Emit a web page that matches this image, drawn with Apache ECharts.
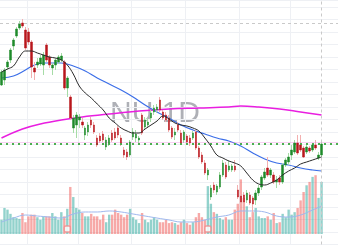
<!DOCTYPE html>
<html>
<head>
<meta charset="utf-8">
<script src="https://cdn.jsdelivr.net/npm/echarts@6/dist/echarts.min.js"></script>
<style>
  html, body { margin: 0; padding: 0; background: #fff; }
  #chart { width: 338px; height: 250px; }
</style>
</head>
<body>
<div id="chart"></div>
<script>
  // daily candles
  const opens = [13.38, 13.58, 14.10, 14.38, 14.94, 15.34, 15.66, 15.86, 15.58, 15.50,
    15.10, 14.06, 14.18, 14.22, 14.18, 14.98, 14.50, 14.06, 14.18, 14.30,
    14.38, 14.30, 13.26, 12.90, 11.66, 11.78, 11.98, 11.90, 11.38, 11.50,
    11.98, 11.78, 11.26, 11.34, 11.42, 10.90, 11.06, 11.46, 11.50, 11.66,
    11.26, 10.78, 10.70, 10.58, 11.30, 11.26, 11.18, 12.18, 11.70, 11.78,
    12.06, 12.30, 12.38, 12.78, 12.30, 12.18, 12.06, 11.66, 11.38, 11.78,
    11.46, 11.18, 11.34, 11.26, 11.26, 11.50, 10.86, 10.58, 10.26, 9.78,
    8.90, 9.38, 9.10, 9.30, 9.78, 10.18, 9.98, 9.98, 10.14, 9.18,
    8.94, 8.98, 8.78, 8.98, 8.86, 8.78, 9.06, 9.30, 9.66, 10.06,
    9.78, 9.78, 9.50, 9.66, 9.50, 10.18, 10.30, 10.58, 10.70, 11.06,
    10.98, 10.86, 10.70, 10.86, 10.78, 10.98, 10.46, 10.58]
  const closes = [13.90, 13.98, 14.30, 14.78, 15.18, 15.62, 15.82, 15.74, 14.86, 15.10,
    14.10, 13.90, 14.30, 14.46, 14.58, 14.38, 14.18, 14.18, 14.38, 14.50,
    14.54, 13.26, 13.66, 12.06, 12.06, 12.18, 12.10, 11.78, 11.66, 11.78,
    11.78, 11.50, 10.98, 11.14, 11.18, 11.18, 11.26, 11.18, 11.26, 11.38,
    11.06, 10.58, 10.50, 11.10, 11.50, 11.42, 11.26, 11.46, 11.98, 11.90,
    12.26, 12.46, 12.50, 12.38, 12.06, 11.98, 11.58, 11.30, 11.50, 11.58,
    11.06, 11.50, 11.10, 11.06, 11.46, 10.86, 10.50, 10.30, 9.86, 9.98,
    9.26, 9.18, 9.34, 9.78, 10.26, 9.70, 10.14, 10.14, 9.98, 8.90,
    8.70, 8.70, 9.06, 8.66, 8.62, 9.06, 9.26, 9.70, 9.90, 9.78,
    9.98, 9.50, 9.58, 9.50, 10.18, 10.38, 10.50, 10.78, 11.06, 10.66,
    10.78, 10.50, 10.90, 10.74, 10.98, 10.86, 10.58, 11.02]
  const lows = [13.34, 13.38, 13.98, 14.26, 14.78, 15.26, 15.58, 15.66, 14.78, 14.98,
    13.66, 13.58, 14.06, 14.14, 13.78, 14.30, 14.06, 13.78, 13.98, 14.22,
    14.30, 13.18, 12.90, 11.98, 11.46, 11.26, 11.66, 11.66, 11.18, 11.34,
    11.66, 11.42, 10.90, 11.06, 11.10, 10.78, 10.94, 11.10, 11.18, 11.26,
    10.94, 10.46, 10.38, 10.50, 11.18, 11.10, 11.06, 11.38, 11.58, 11.66,
    11.90, 12.18, 12.26, 12.30, 11.98, 11.90, 11.50, 11.22, 11.18, 11.50,
    10.98, 11.06, 11.02, 10.94, 11.18, 10.78, 10.42, 10.22, 9.78, 9.58,
    8.78, 9.06, 8.98, 9.22, 9.70, 9.62, 9.90, 9.90, 9.90, 8.82,
    8.62, 8.58, 8.66, 8.58, 8.18, 8.58, 8.94, 9.18, 9.58, 9.70,
    9.66, 9.42, 9.26, 9.38, 9.42, 10.10, 10.18, 10.38, 10.62, 10.58,
    10.70, 10.46, 10.62, 10.66, 10.70, 10.78, 10.38, 10.50]
  const highs = [13.98, 14.06, 14.38, 14.86, 15.26, 15.70, 15.94, 16.02, 15.70, 15.66,
    15.18, 14.30, 14.46, 14.58, 14.70, 15.06, 14.58, 14.26, 14.46, 14.58,
    14.66, 14.38, 13.74, 12.98, 12.18, 12.30, 12.22, 12.06, 11.74, 11.90,
    12.10, 11.90, 11.38, 11.46, 11.54, 11.30, 11.38, 11.58, 11.66, 11.74,
    11.38, 10.90, 10.82, 11.18, 11.66, 11.58, 11.34, 12.26, 12.10, 12.06,
    12.38, 12.58, 12.62, 12.90, 12.38, 12.30, 12.18, 11.74, 11.66, 11.90,
    11.58, 11.58, 11.42, 11.38, 11.54, 11.58, 10.94, 10.70, 10.38, 10.06,
    9.38, 9.50, 9.42, 9.90, 10.38, 10.30, 10.38, 10.22, 10.38, 9.38,
    9.02, 9.10, 9.18, 9.10, 8.94, 9.18, 9.38, 9.78, 10.06, 10.50,
    10.06, 9.90, 9.74, 9.78, 10.26, 10.46, 10.66, 10.98, 11.18, 11.38,
    11.38, 10.94, 10.98, 10.94, 11.06, 11.18, 10.70, 11.10]
  // volume in millions
  const volumes = [17, 31, 29, 24, 20, 19, 18, 25, 14, 21,
    23, 23, 20, 17, 21, 21, 21, 25, 21, 17,
    26, 21, 30, 56, 44, 31, 29, 25, 21, 21,
    24, 21, 21, 17, 23, 14, 23, 23, 29, 25,
    23, 20, 23, 30, 20, 17, 13, 25, 17, 14,
    17, 20, 17, 14, 14, 17, 13, 14, 13, 11,
    14, 17, 13, 11, 14, 20, 25, 20, 17, 57,
    36, 26, 24, 19, 17, 20, 17, 17, 29, 36,
    65, 43, 33, 20, 26, 31, 21, 19, 19, 21,
    17, 25, 13, 14, 24, 20, 29, 23, 26, 31,
    40, 50, 58, 62, 68, 70, 43, 62]

  // moving averages, read as [bar index, value]
  const maShort = [[0, 13.90], [2, 14.02], [4, 14.14], [6, 14.50], [8, 14.74], [10, 14.74],
    [12, 14.66], [14, 14.58], [16, 14.50], [18, 14.46], [20, 14.38], [22, 14.18],
    [24, 13.82], [26, 13.34], [28, 13.06], [30, 12.86], [32, 12.62], [34, 12.38],
    [36, 12.06], [38, 11.86], [40, 11.66], [42, 11.54], [44, 11.46], [46, 11.46],
    [48, 11.62], [50, 11.78], [52, 11.94], [54, 12.14], [56, 12.02], [58, 11.86],
    [60, 11.78], [62, 11.74], [64, 11.66], [66, 11.54], [68, 11.26], [70, 10.94],
    [72, 10.58], [74, 10.46], [76, 10.34], [78, 10.26], [80, 10.14], [82, 9.86],
    [84, 9.58], [86, 9.42], [88, 9.38], [90, 9.46], [92, 9.58], [94, 9.78],
    [96, 9.94], [98, 10.06], [100, 10.22], [102, 10.30], [104, 10.38], [106, 10.46], [107, 10.50]]
  const maMid = [[0, 13.66], [4, 13.74], [8, 13.98], [11, 14.18], [14, 14.26], [20, 14.26],
    [24, 14.14], [28, 13.94], [32, 13.66], [36, 13.42], [40, 13.18], [44, 12.90],
    [48, 12.58], [52, 12.30], [56, 12.06], [60, 11.78], [64, 11.58], [68, 11.42],
    [72, 11.26], [76, 11.14], [80, 10.94], [84, 10.66], [88, 10.42], [92, 10.26],
    [96, 10.18], [100, 10.06], [104, 9.98], [107, 9.94]]
  const maLong = [[0, 11.26], [7, 11.62], [13, 11.82], [20, 11.98], [27, 12.10], [36, 12.22],
    [46, 12.34], [56, 12.42], [66, 12.46], [76, 12.50], [80, 12.54], [86, 12.50],
    [93, 12.42], [100, 12.30], [107, 12.18]]
  const volMa = [[0, 14.3], [4, 19], [8, 22.6], [12, 21.4], [16, 20.2], [20, 19], [24, 23.8],
    [28, 26.2], [32, 26.2], [36, 27.4], [40, 26.2], [44, 23.8], [48, 21.4], [52, 19],
    [56, 16.7], [60, 14.3], [64, 14.3], [68, 16.7], [72, 20.2], [76, 22.6], [80, 27.4],
    [84, 27.4], [88, 26.2], [92, 21.4], [96, 20.2], [100, 22.6], [104, 28.6], [107, 33.3]]

  const lastPrice = 11.02
  const prevLine = 11.08
  const highLine = 15.85
  const earnings = [22, 69]
  const monthStarts = [9, 26, 44, 62, 80, 97]
  const padBars = 5

  const cats = []
  for (let i = 0; i < opens.length + padBars; i++) cats.push('d' + i)

  const upColor = '#1e8a2a'
  const downColor = '#b8161c'

  const wicks = opens.map((o, i) => [o, closes[i], lows[i], highs[i]])
  const bodies = opens.map((o, i) => [o, closes[i], Math.min(o, closes[i]), Math.max(o, closes[i])])
  const volBars = volumes.map((v, i) => ({
    value: v,
    itemStyle: { color: closes[i] >= opens[i] ? 'rgba(38,166,154,0.5)' : 'rgba(239,83,80,0.5)' }
  }))

  const chart = echarts.init(document.getElementById('chart'), null, { renderer: 'canvas' })
  const option = {
    animation: false,
    backgroundColor: '#fff',
    graphic: [{
      type: 'text',
      x: 110,
      y: 99,
      z: 0,
      silent: true,
      style: {
        text: 'NU 1D',
        font: '30px "Liberation Sans", Arial, sans-serif',
        fill: 'rgba(120,123,134,0.6)'
      }
    }],
    grid: [
      { left: 0, right: 0, top: 0, bottom: 5.5 },
      { left: 0, right: 0, bottom: 16, height: 84 }
    ],
    xAxis: [
      {
        type: 'category',
        data: cats,
        boundaryGap: true,
        axisLine: { show: false },
        axisTick: { show: false },
        axisLabel: { show: false },
        splitLine: {
          show: true,
          interval: (idx) => monthStarts.indexOf(idx) >= 0,
          lineStyle: { color: '#eef0f4', width: 1 }
        }
      },
      {
        type: 'category',
        gridIndex: 1,
        data: cats,
        boundaryGap: true,
        axisLine: { show: false },
        axisTick: { show: false },
        axisLabel: { show: false },
        splitLine: { show: false }
      }
    ],
    yAxis: [
      {
        type: 'value',
        min: 7,
        max: 16.78,
        interval: 0.5,
        axisLine: { show: false },
        axisTick: { show: false },
        axisLabel: { show: false },
        splitLine: { lineStyle: { color: '#eef0f4', width: 1 } }
      },
      {
        type: 'value',
        gridIndex: 1,
        min: 0,
        max: 100,
        show: false,
        splitLine: { show: false }
      }
    ],
    series: [
      {
        name: 'vol',
        type: 'bar',
        xAxisIndex: 1,
        yAxisIndex: 1,
        barWidth: '80%',
        data: volBars,
        z: 1
      },
      {
        name: 'volMa',
        type: 'line',
        xAxisIndex: 1,
        yAxisIndex: 1,
        smooth: 0.4,
        showSymbol: false,
        data: volMa,
        lineStyle: { color: '#9fb8ee', width: 1 },
        z: 2
      },
      {
        name: 'events',
        type: 'scatter',
        xAxisIndex: 1,
        yAxisIndex: 1,
        symbol: 'roundRect',
        symbolSize: 6,
        data: earnings.map(i => [i, 6]),
        itemStyle: { color: '#fff', borderColor: '#f08a8a', borderWidth: 1.5 },
        z: 3
      },
      {
        name: 'ma200',
        type: 'line',
        smooth: 0.4,
        showSymbol: false,
        data: maLong,
        lineStyle: { color: '#e91ee0', width: 1.5 },
        z: 3
      },
      {
        name: 'ma50',
        type: 'line',
        smooth: 0.4,
        showSymbol: false,
        data: maMid,
        lineStyle: { color: '#3b6ee8', width: 1.2 },
        z: 3
      },
      {
        name: 'wicks',
        type: 'candlestick',
        barWidth: 1,
        data: wicks,
        itemStyle: {
          color: '#a6dca6',
          color0: '#f3b0b0',
          borderColor: '#a6dca6',
          borderColor0: '#f3b0b0',
          borderWidth: 1
        },
        z: 4
      },
      {
        name: 'bodies',
        type: 'candlestick',
        barWidth: 2,
        data: bodies,
        itemStyle: {
          color: upColor,
          color0: downColor,
          borderColor: upColor,
          borderColor0: downColor,
          borderWidth: 0.5
        },
        markLine: {
          symbol: 'none',
          silent: true,
          label: { show: false },
          data: [
            { yAxis: highLine, lineStyle: { color: '#c9c9c9', type: [3, 3], width: 1 } },
            { yAxis: prevLine, lineStyle: { color: 'rgba(235,120,220,0.35)', type: 'solid', width: 1 } },
            { yAxis: lastPrice, lineStyle: { color: '#4caf50', type: [2, 4], width: 2 } },
            { xAxis: cats[opens.length - 1], lineStyle: { color: '#c9c9c9', type: [3, 3], width: 1 } }
          ]
        },
        z: 5
      },
      {
        name: 'ma10',
        type: 'line',
        smooth: 0.4,
        showSymbol: false,
        data: maShort,
        lineStyle: { color: '#2a2a2a', width: 1 },
        z: 6
      }
    ]
  }
  chart.setOption(option)
</script>
</body>
</html>
